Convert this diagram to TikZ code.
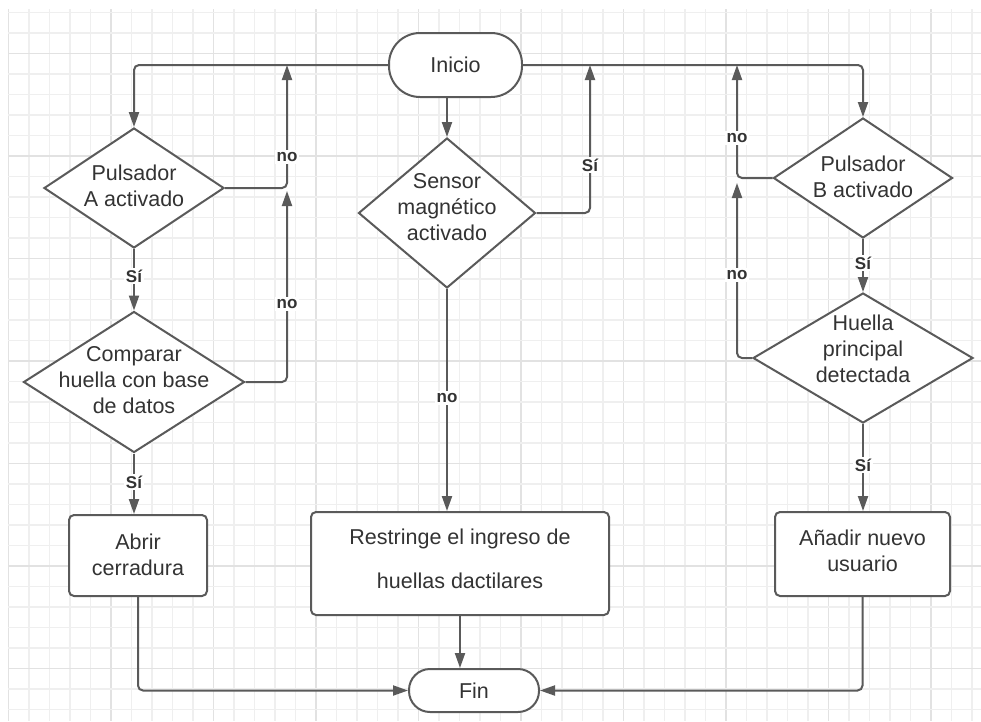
\documentclass[tikz,border=0pt]{standalone}
\usepackage{fontspec}
\setmainfont{Liberation Sans}
\usetikzlibrary{shapes.geometric,arrows.meta}
\definecolor{ln}{HTML}{5A5A5A}
\definecolor{tx}{HTML}{333333}
\definecolor{gmin}{HTML}{EFEFEF}
\definecolor{gmaj}{HTML}{E2E2E2}
\begin{document}
\begin{tikzpicture}[x=1pt,y=-1pt,
  shapeline/.style={draw=ln, line width=2pt, fill=white},
  dec/.style={shapeline, diamond, inner sep=0pt},
  proc/.style={shapeline, rectangle, rounded corners=5pt, inner sep=0pt},
  term/.style={shapeline, rectangle, inner sep=0pt},
  txt/.style={align=center, text=tx, font=\fontsize{21.5}{26}\selectfont, inner sep=0pt},
  conn/.style={draw=ln, line width=2pt, rounded corners=5pt, -{Triangle[length=15pt,width=10pt]}},
  plainline/.style={draw=ln, line width=2pt, rounded corners=5pt},
  lab/.style={fill=white, text=tx, font=\bfseries\fontsize{17}{20}\selectfont, inner sep=2pt},
]
\useasboundingbox (0,0) rectangle (981,721);
\fill[white] (0,0) rectangle (981,721);
% grid
\foreach \i in {0,...,47} {
  \pgfmathtruncatemacro{\m}{mod(\i,5)}
  \ifnum\m=0
    \draw[gmaj, line width=1.5pt] ({8.3+20.5*\i},9) -- ({8.3+20.5*\i},721);
  \else
    \draw[gmin, line width=1.5pt] ({8.3+20.5*\i},9) -- ({8.3+20.5*\i},721);
  \fi
}
\foreach \k in {-2,...,32} {
  \pgfmathtruncatemacro{\m}{mod(\k+10,5)}
  \ifnum\m=0
    \draw[gmaj, line width=1.5pt] (8,{53.3+20.5*\k}) -- (981,{53.3+20.5*\k});
  \else
    \draw[gmin, line width=1.5pt] (8,{53.3+20.5*\k}) -- (981,{53.3+20.5*\k});
  \fi
}

% nodes
\node[term, rounded corners=31pt, minimum width=133pt, minimum height=64pt] (ini) at (455.5,65) {};
\node[txt] (iniT) at (ini) {Inicio};

\node[dec, minimum width=180pt, minimum height=120pt] (pa) at (134,188) {};
\node[txt] (paT) at (134,186) {Pulsador\\A activado};

\node[dec, minimum width=221pt, minimum height=141pt] (cmp) at (134,382) {};
\node[txt] (cmpT) at (134,380) {Comparar\\huella con base\\de datos};

\node[proc, minimum width=138pt, minimum height=81pt] (abr) at (138,555.5) {};
\node[txt] (abrT) at (138,555) {Abrir\\cerradura};

\node[dec, minimum width=177pt, minimum height=150pt] (sen) at (447,213) {};
\node[txt] (senT) at (447,207) {Sensor\\magnético\\activado};

\node[proc, minimum width=298pt, minimum height=103pt] (res) at (460,563.5) {};
\node[txt] (resT) at (460,559) {Restringe el ingreso de\\[18pt]huellas dactilares};

\node[dec, minimum width=179pt, minimum height=120pt] (pb) at (863,178) {};
\node[txt] (pbT) at (863,177) {Pulsador\\B activado};

\node[dec, minimum width=220pt, minimum height=130pt] (hu) at (863,358) {};
\node[txt] (huT) at (863,349) {Huella\\principal\\detectada};

\node[proc, minimum width=175pt, minimum height=84pt] (an) at (862.5,554) {};
\node[txt] (anT) at (862.5,551) {Añadir nuevo\\usuario};

\node[term, rounded corners=21pt, minimum width=130pt, minimum height=43pt] (fin) at (474,690.5) {};
\node[txt] (finT) at (fin) {Fin};

% junction coordinates
\coordinate (ja) at (287,65);
\coordinate (jb) at (287,191);
\coordinate (js) at (590,65);
\coordinate (jc) at (737,65);
\coordinate (jd) at (737,183);

% connectors
\draw[conn] (ini.west) -| (pa.north);
\draw[conn] (ini.east) -| (pb.north);
\draw[conn] (sen.north |- ini.south) -- (sen.north);
\draw[conn] (pa.east) -| (ja);
\draw[conn] (cmp.east) -| (jb);
\draw[conn] (sen.east) -| (js);
\draw[conn] (pb.west) -| (jc);
\draw[conn] (hu.west) -| (jd);
\draw[conn] (pa.south) -- (cmp.north);
\draw[conn] (cmp.south) -- (cmp.south |- abr.north);
\draw[conn] (sen.south) -- (sen.south |- res.north);
\draw[conn] (pb.south) -- (hu.north);
\draw[conn] (hu.south) -- (hu.south |- an.north);
\draw[conn] (abr.south) |- (fin.west);
\draw[conn] (an.south) |- (fin.east);
\draw[conn] (res.south) -- (res.south |- fin.north);

% labels
\node[lab] (l1) at (287,157) {no};
\node[lab] (l2) at (287,304) {no};
\node[lab] (l3) at (134,276) {Sí};
\node[lab] (l4) at (134,482) {Sí};
\node[lab] (l5) at (590,165) {Sí};
\node[lab] (l6) at (447,398) {no};
\node[lab] (l7) at (737,138) {no};
\node[lab] (l8) at (737,275) {no};
\node[lab] (l9) at (863,263) {Sí};
\node[lab] (l10) at (863,465) {Sí};
\end{tikzpicture}
\end{document}
